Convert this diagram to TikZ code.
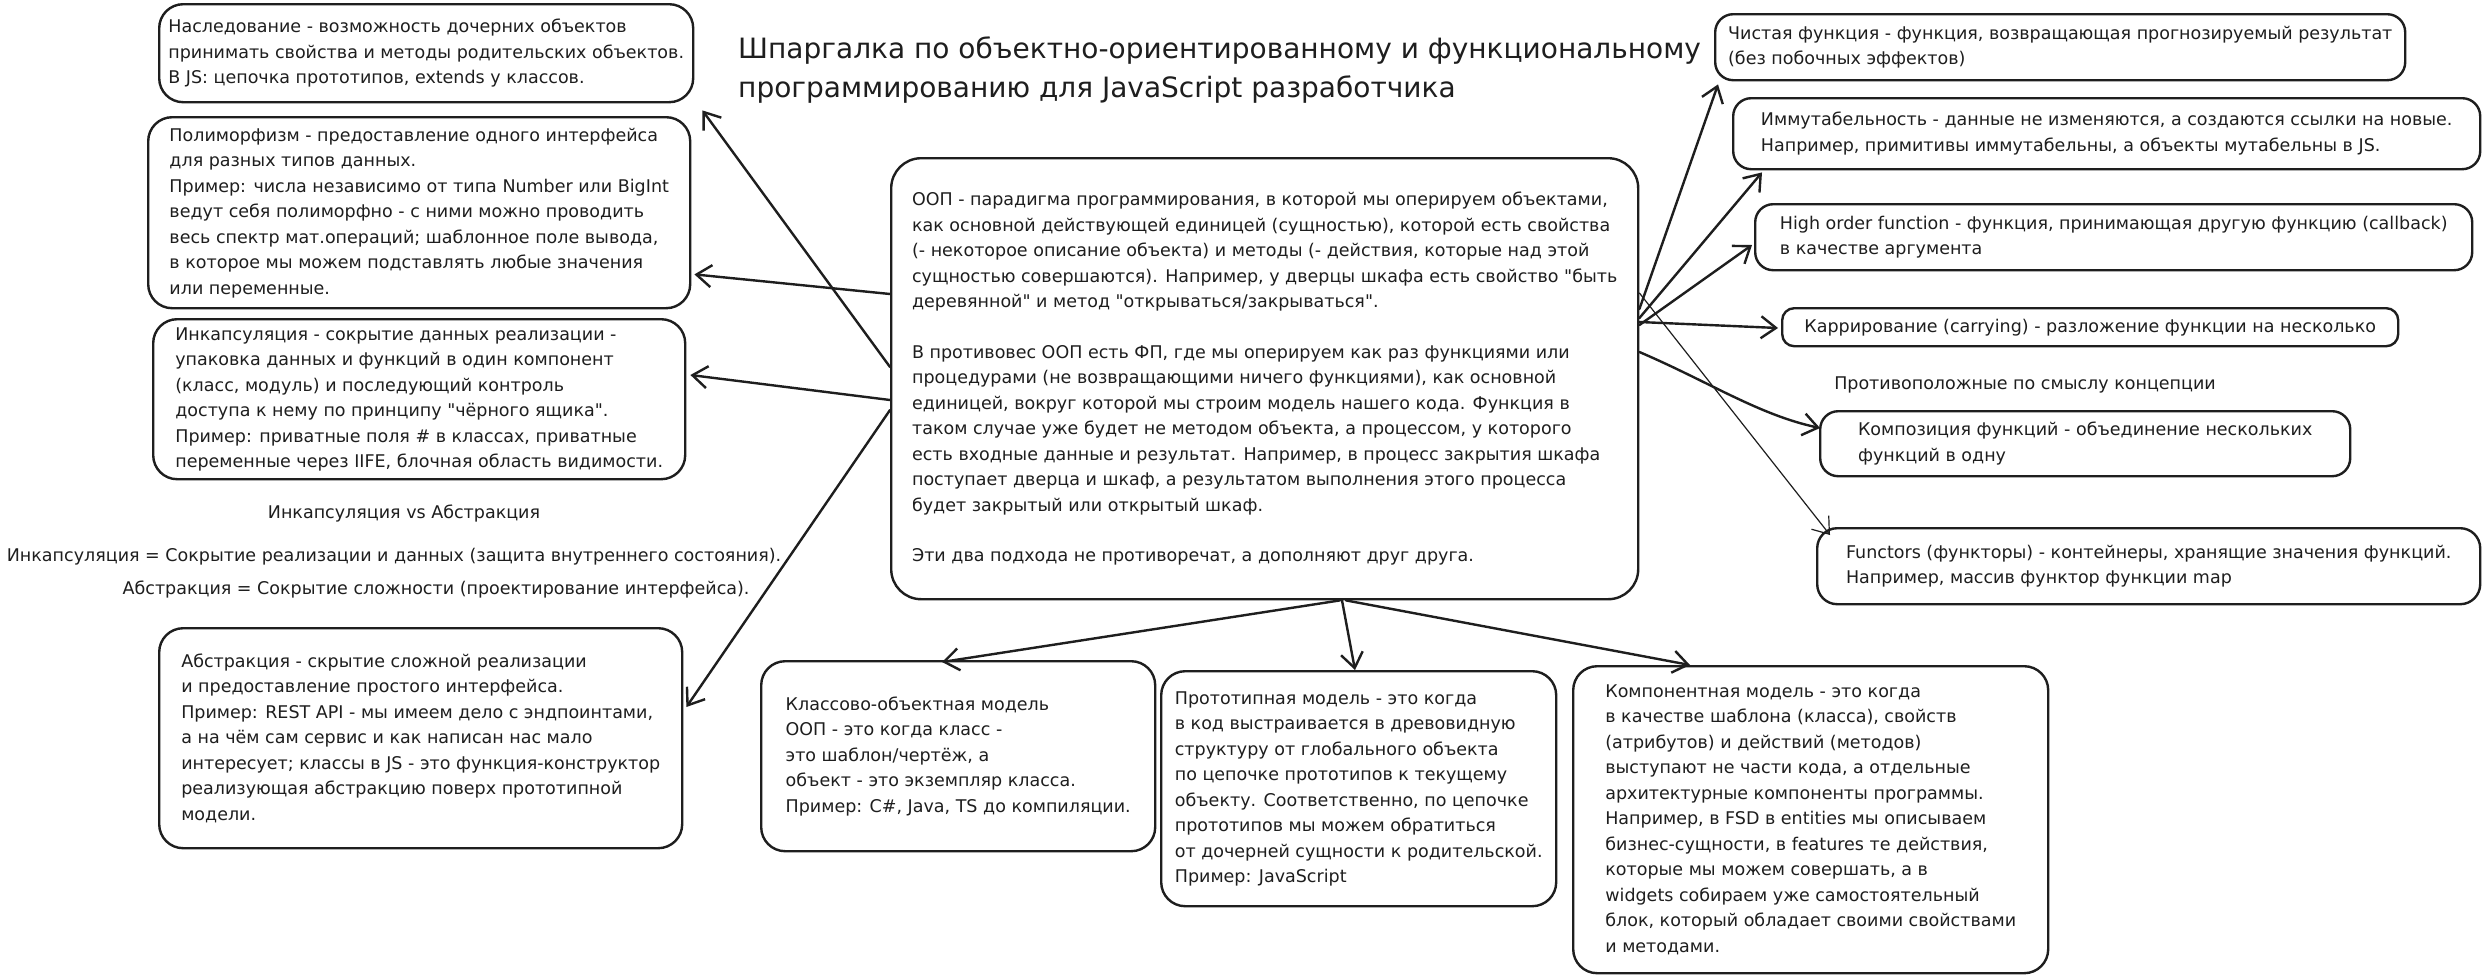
\documentclass[tikz,border=0pt]{standalone}
\usepackage{fontspec}
\setmainfont{DejaVu Sans}[Ligatures=TeXOff]
\usetikzlibrary{arrows.meta,calc}
\definecolor{ink}{HTML}{1E1E1E}
\newcommand{\dq}{{\char"22}}
\begin{document}
\begin{tikzpicture}[x=1pt,y=-1pt,
  card/.style={draw=ink, line width=2.4pt, rounded corners=24pt, align=left,
    inner sep=0pt, anchor=north west, text=ink,
    font=\fontsize{17.5}{25.5}\selectfont},
  plain/.style={inner sep=0pt, text=ink, font=\fontsize{17.5}{25.5}\selectfont},
  arr/.style={draw=ink, line width=2.4pt, line cap=round, line join=round,
    -{Straight Barb[length=15pt,width=22pt]}},
  thinarr/.style={arr, line width=1.2pt}]
\fill[white] (0,0) rectangle (2482,975);
\useasboundingbox (0,0) rectangle (2482,975);

% title
\node[plain, anchor=north west, align=left, font=\fontsize{28}{39}\selectfont] (title) at (738,37)
 {Шпаргалка по объектно-ориентированному и функциональному\\
  программированию для JavaScript разработчика};

% left column
\node[card, minimum width=534pt, minimum height=98pt] (inh) at (158,3)
 {Наследование - возможность дочерних объектов\\
  принимать свойства и методы родительских объектов.\\
  В JS: цепочка прототипов, extends у классов.};

\node[card, minimum width=542pt, minimum height=191pt] (poly) at (147,116)
 {Полиморфизм - предоставление одного интерфейса\\
  для разных типов данных.\\
  Пример: числа независимо от типа Number или BigInt\\
  ведут себя полиморфно - с ними можно проводить\\
  весь спектр мат.операций; шаблонное поле вывода,\\
  в которое мы можем подставлять любые значения\\
  или переменные.};

\node[card, minimum width=532pt, minimum height=160pt] (enc) at (152,318)
 {Инкапсуляция - сокрытие данных реализации -\\
  упаковка данных и функций в один компонент\\
  (класс, модуль) и последующий контроль\\
  доступа к нему по принципу \dq чёрного ящика\dq.\\
  Пример: приватные поля \# в классах, приватные\\
  переменные через IIFE, блочная область видимости.};

\node[plain] (vs) at (404,514) {Инкапсуляция vs Абстракция};
\node[plain] (encdef) at (394,557) {Инкапсуляция = Сокрытие реализации и данных (защита внутреннего состояния).};
\node[plain] (absdef) at (436,590) {Абстракция = Сокрытие сложности (проектирование интерфейса).};

\node[card, minimum width=523pt, minimum height=220pt] (abs) at (158,627)
 {Абстракция - скрытие сложной реализации\\
  и предоставление простого интерфейса.\\
  Пример: REST API - мы имеем дело с эндпоинтами,\\
  а на чём сам сервис и как написан нас мало\\
  интересует; классы в JS - это функция-конструктор\\
  реализующая абстракцию поверх прототипной\\
  модели.};

% centre
\node[card, minimum width=747pt, minimum height=441pt, rounded corners=30pt] (oop) at (890,157)
 {ООП - парадигма программирования, в которой мы оперируем объектами,\\
  как основной действующей единицей (сущностью), которой есть свойства\\
  (- некоторое описание объекта) и методы (- действия, которые над этой\\
  сущностью совершаются). Например, у дверцы шкафа есть свойство \dq быть\\
  деревянной\dq{} и метод \dq открываться/закрываться\dq.\\[25pt]
  В противовес ООП есть ФП, где мы оперируем как раз функциями или\\
  процедурами (не возвращающими ничего функциями), как основной\\
  единицей, вокруг которой мы строим модель нашего кода. Функция в\\
  таком случае уже будет не методом объекта, а процессом, у которого\\
  есть входные данные и результат. Например, в процесс закрытия шкафа\\
  поступает дверца и шкаф, а результатом выполнения этого процесса\\
  будет закрытый или открытый шкаф.\\[25pt]
  Эти два подхода не противоречат, а дополняют друг друга.};

% right column
\node[card, minimum width=690pt, minimum height=66pt, rounded corners=18pt] (r1) at (1714,13)
 {Чистая функция - функция, возвращающая прогнозируемый результат\\
  (без побочных эффектов)};
\node[card, minimum width=747pt, minimum height=71pt, rounded corners=18pt] (r2) at (1732,97)
 {Иммутабельность - данные не изменяются, а создаются ссылки на новые.\\
  Например, примитивы иммутабельны, а объекты мутабельны в JS.};
\node[card, minimum width=717pt, minimum height=66pt, rounded corners=18pt] (r3) at (1754,203)
 {High order function - функция, принимающая другую функцию (callback)\\
  в качестве аргумента};
\node[card, minimum width=616pt, minimum height=38pt, rounded corners=12pt] (r4) at (1781,307)
 {Каррирование (carrying) - разложение функции на несколько};
\node[plain] (opp) at (2025,385) {Противоположные по смыслу концепции};
\node[card, minimum width=530pt, minimum height=65pt, rounded corners=18pt] (r5) at (1819,410)
 {Композиция функций - объединение нескольких\\
  функций в одну};
\node[card, minimum width=663pt, minimum height=76pt, rounded corners=20pt] (r6) at (1816,527)
 {Functors (функторы) - контейнеры, хранящие значения функций.\\
  Например, массив функтор функции map};

% bottom row
\node[card, minimum width=394pt, minimum height=190pt] (b1) at (760,660)
 {Классово-объектная модель\\
  ООП - это когда класс -\\
  это шаблон/чертёж, а\\
  объект - это экземпляр класса.\\
  Пример: C\#, Java, TS до компиляции.};
\node[card, minimum width=395pt, minimum height=235pt] (b2) at (1160,670)
 {Прототипная модель - это когда\\
  в код выстраивается в древовидную\\
  структуру от глобального объекта\\
  по цепочке прототипов к текущему\\
  объекту. Соответственно, по цепочке\\
  прототипов мы можем обратиться\\
  от дочерней сущности к родительской.\\
  Пример: JavaScript};
\node[card, minimum width=475pt, minimum height=307pt] (b3) at (1572,665)
 {Компонентная модель - это когда\\
  в качестве шаблона (класса), свойств\\
  (атрибутов) и действий (методов)\\
  выступают не части кода, а отдельные\\
  архитектурные компоненты программы.\\
  Например, в FSD в entities мы описываем\\
  бизнес-сущности, в features те действия,\\
  которые мы можем совершать, а в\\
  widgets собираем уже самостоятельный\\
  блок, который обладает своими свойствами\\
  и методами.};

% connectors: left
\draw[arr] ($(oop.north west)+(0,210)$) -- ($(inh.south east)+(8,7)$);
\draw[arr] ($(oop.north west)+(0,137)$) -- ($(poly.south east)+(3,-35)$);
\draw[arr] ($(oop.north west)+(0,243)$) -- ($(enc.north east)+(4,57)$);
\draw[arr] ($(oop.north west)+(0,253)$) -- ($(abs.north east)+(3,80)$);
% connectors: right
\draw[arr] ($(oop.north east)+(0,152)$) -- ($(r1.south west)+(4,3)$);
\draw[arr] ($(oop.north east)+(0,161)$) -- ($(r2.south west)+(30,2)$);
\draw[arr] ($(oop.north east)+(0,168)$) -- ($(r3.north west)+(-2,42)$);
\draw[arr] ($(oop.north east)+(0,165)$) -- ($(r4.north west)+(-3,21)$);
\draw[arr] ($(oop.north east)+(0,195)$) .. controls ($(oop.north east)+(70,225)$) and ($(r5.north west)+(-60,5)$) .. ($(r5.north west)+(1,18)$);
\draw[thinarr] ($(oop.north east)+(0,136)$) -- ($(r6.north west)+(14,8)$);
% connectors: bottom
\draw[arr] ($(oop.south west)+(450,0)$) -- ($(b1.north west)+(182,2)$);
\draw[arr] ($(oop.south west)+(452,0)$) -- ($(b2.north west)+(195,0)$);
\draw[arr] ($(oop.south west)+(456,0)$) -- ($(b3.north west)+(118,0)$);
\end{tikzpicture}
\end{document}
